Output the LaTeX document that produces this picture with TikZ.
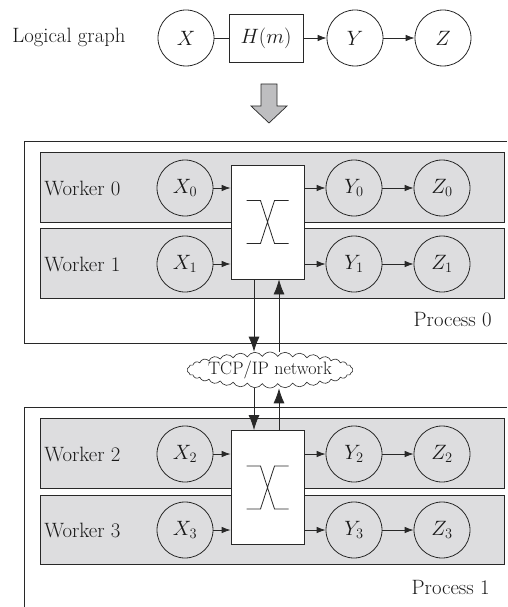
\documentclass[tikz,border=0pt]{standalone}
\usetikzlibrary{shapes.symbols,arrows.meta}
\definecolor{ln}{RGB}{40,40,40}
\definecolor{tx}{RGB}{25,25,25}
\definecolor{wk}{RGB}{221,221,223}
\definecolor{ba}{RGB}{190,190,192}
\begin{document}
\begin{tikzpicture}[x=1pt,y=1pt,line width=0.8pt,
  every node/.style={font=\huge,text=tx},
  circ/.style={circle,draw=ln,minimum size=56pt,inner sep=0pt},
  wbox/.style={draw=ln,fill=wk},
  swbox/.style={draw=ln,fill=white,minimum width=73pt,minimum height=114pt,inner sep=0pt},
  hbox/.style={draw=ln,fill=white,minimum width=74pt,minimum height=48pt,inner sep=0pt},
  arr/.style={draw=ln,-{Latex[length=9pt,width=6.5pt]}},
  bigarr/.style={draw=ln,-{Latex[length=15pt,width=11pt]}},
  lbl/.style={anchor=west,inner sep=0pt},
  plbl/.style={anchor=east,inner sep=0pt}]
\useasboundingbox (0,0) rectangle (507,-607);

% logical graph
\node[lbl] (lg) at (12,-37) {Logical graph};
\node[circ] (X) at (186,-38) {$X$};
\node[hbox] (H) at (266,-38) {$H(m)$};
\node[circ] (Y) at (355,-38) {$Y$};
\node[circ] (Z) at (443,-38) {$Z$};
\draw[ln] (X) -- (H);
\draw[arr] (H) -- (Y);
\draw[arr] (Y) -- (Z);

% block arrow
\draw[draw=ln,fill=ba,line width=0.7pt] (261,-84) -- (277,-84) -- (277,-106) -- (287,-106) -- (269,-123) -- (251,-106) -- (261,-106) -- cycle;

% process 0
\draw[ln] (507,-141) -- (24,-141) -- (24,-343) -- (507,-343);
\draw[wbox] (40,-152) rectangle (504,-222);
\draw[wbox] (40,-228) rectangle (504,-298);
\node[lbl] (w0) at (44,-188) {Worker 0};
\node[lbl] (w1) at (44,-264) {Worker 1};
\node[plbl] (p0) at (492,-320) {Process 0};
\node[circ] (X0) at (185,-188) {$X_0$};
\node[circ] (X1) at (185,-264) {$X_1$};
\node[circ] (Y0) at (354,-188) {$Y_0$};
\node[circ] (Y1) at (354,-264) {$Y_1$};
\node[circ] (Z0) at (442,-188) {$Z_0$};
\node[circ] (Z1) at (442,-264) {$Z_1$};
\node[swbox] (s0) at (267.5,-222) {};
\draw[arr] (X0) -- (X0 -| s0.west);
\draw[arr] (X1) -- (X1 -| s0.west);
\draw[arr] (Y0 -| s0.east) -- (Y0);
\draw[arr] (Y1 -| s0.east) -- (Y1);
\draw[arr] (Y0) -- (Z0);
\draw[arr] (Y1) -- (Z1);
\draw[ln,shift={(s0.center)}] (-21,21.5) -- (-7,21.5) -- (7,-21.5) -- (21,-21.5)
  (21,21.5) -- (7,21.5) -- (-7,-21.5) -- (-21,-21.5);

% process 1
\draw[ln] (507,-407) -- (24,-407) -- (24,-607);
\draw[wbox] (40,-418) rectangle (504,-488);
\draw[wbox] (40,-495) rectangle (504,-564);
\node[lbl] (w2) at (44,-454) {Worker 2};
\node[lbl] (w3) at (44,-530) {Worker 3};
\node[plbl] (p1) at (490,-587) {Process 1};
\node[circ] (X2) at (185,-454) {$X_2$};
\node[circ] (X3) at (185,-530) {$X_3$};
\node[circ] (Y2) at (354,-454) {$Y_2$};
\node[circ] (Y3) at (354,-530) {$Y_3$};
\node[circ] (Z2) at (442,-454) {$Z_2$};
\node[circ] (Z3) at (442,-530) {$Z_3$};
\node[swbox] (s1) at (267.5,-487.5) {};
\draw[arr] (X2) -- (X2 -| s1.west);
\draw[arr] (X3) -- (X3 -| s1.west);
\draw[arr] (Y2 -| s1.east) -- (Y2);
\draw[arr] (Y3 -| s1.east) -- (Y3);
\draw[arr] (Y2) -- (Z2);
\draw[arr] (Y3) -- (Z3);
\draw[ln,shift={(s1.center)}] (-21,21.5) -- (-7,21.5) -- (7,-21.5) -- (21,-21.5)
  (21,21.5) -- (7,21.5) -- (-7,-21.5) -- (-21,-21.5);

% network
\node[cloud,draw=ln,fill=white,cloud puffs=34,cloud puff arc=120,aspect=4.5,
  minimum width=166pt,minimum height=36pt,inner sep=0pt,line width=0.6pt] (net) at (270,-370) {};
\node[font=\fontsize{18}{21}\selectfont,inner sep=0pt] (nett) at (net.center) {TCP/IP network};
\coordinate (a0) at ([xshift=-13.5pt]s0.south);
\coordinate (b0) at ([xshift=11.5pt]s0.south);
\coordinate (a1) at ([xshift=-13.5pt]s1.north);
\coordinate (b1) at ([xshift=11.5pt]s1.north);
\draw[bigarr] (a0) -- (a0 |- net.north);
\draw[bigarr] (b0 |- net.north) -- (b0);
\draw[bigarr] (a1 |- net.south) -- (a1);
\draw[bigarr] (b1) -- (b1 |- net.south);
\end{tikzpicture}
\end{document}
